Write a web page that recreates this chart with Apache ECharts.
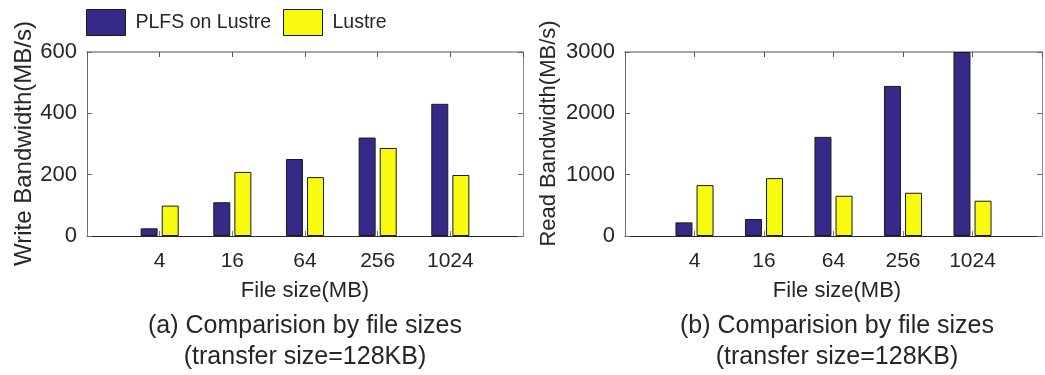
<!DOCTYPE html>
<html><head><meta charset="utf-8">
<script src="https://cdn.jsdelivr.net/npm/echarts@6/dist/echarts.min.js"></script>
<style>html,body{margin:0;padding:0;background:#fff}#c{width:1045px;height:375px}</style>
</head><body><div id="c"></div>
<script>
// ---- data ----
const categories = ['4', '16', '64', '256', '1024'];
const seriesNames = ['PLFS on Lustre', 'Lustre'];
const writePLFS   = [25, 110, 251, 321, 431];
const writeLustre = [99, 209, 192, 287, 199];
const readPLFS    = [222, 277, 1616, 2447, 3000];
const readLustre  = [830, 944, 656, 705, 575];
const yLabels = ['Write Bandwidth(MB/s)', 'Read Bandwidth(MB/s)'];
const xLabel = 'File size(MB)';
const captions = [['(a) Comparision by file sizes', '(transfer size=128KB)'],
                  ['(b) Comparision by file sizes', '(transfer size=128KB)']];

// ---- style ----
const FONT = '"Liberation Sans", Arial, Helvetica, sans-serif';
const TXT = '#262626';
const BLUE = '#352a87', YELLOW = '#f8fa0f';
const BOX = '#8a8a8a';

const grids = [
  {left: 87, top: 52, width: 436, height: 184},
  {left: 625, top: 52, width: 425, height: 184}
];
const yMax = [600, 3000], yInt = [200, 1000];

const xAxes = [], yAxes = [], series = [];
grids.forEach((g, gi) => {
  xAxes.push({
    gridIndex: gi, type: 'value', min: 0, max: 6, interval: 1, position: 'bottom',
    axisLine: {show: true, onZero: false, lineStyle: {color: '#262626', width: 1}},
    axisTick: {show: true, inside: true, length: 5, lineStyle: {color: '#7a7a7a'}},
    axisLabel: {show: true, margin: 15, fontSize: 21, fontFamily: FONT, color: TXT,
      formatter: v => categories[v - 1] || ''},
    splitLine: {show: false}
  });
  xAxes.push({
    gridIndex: gi, type: 'value', min: 0, max: 6, interval: 1, position: 'top',
    axisLine: {show: true, onZero: false, lineStyle: {color: BOX, width: 1.5}},
    axisTick: {show: true, inside: true, length: 5, lineStyle: {color: '#555'}},
    axisLabel: {show: false}, splitLine: {show: false}
  });
  yAxes.push({
    gridIndex: gi, type: 'value', min: 0, max: yMax[gi], interval: yInt[gi], position: 'left',
    axisLine: {show: true, onZero: false, lineStyle: {color: '#6a6a6a', width: 1}},
    axisTick: {show: true, inside: true, length: 5, lineStyle: {color: '#6a6a6a'}},
    axisLabel: {show: true, margin: 10, fontSize: 22, fontFamily: FONT, color: TXT,
      formatter: v => String(v)},
    splitLine: {show: false}
  });
  yAxes.push({
    gridIndex: gi, type: 'value', min: 0, max: yMax[gi], interval: yInt[gi], position: 'right',
    axisLine: {show: true, onZero: false, lineStyle: {color: BOX, width: 1}},
    axisTick: {show: true, inside: true, length: 5, lineStyle: {color: '#6a6a6a'}},
    axisLabel: {show: false}, splitLine: {show: false}
  });
});

const dataSets = [[writePLFS, writeLustre], [readPLFS, readLustre]];
const colors = [BLUE, YELLOW];
dataSets.forEach((pair, gi) => {
  pair.forEach((vals, si) => {
    series.push({
      name: seriesNames[si], type: 'bar',
      xAxisIndex: gi * 2, yAxisIndex: gi * 2,
      barWidth: 17, barGap: '24%',
      itemStyle: {color: colors[si], borderColor: '#1a1a1a', borderWidth: 1},
      data: vals.map((v, i) => [i + 1, v]),
      animation: false, z: 3
    });
  });
});

const graphic = [];
const yNamePos = [{x: 24, y: 143.5, size: 24}, {x: 549, y: 133.5, size: 22}];
yNamePos.forEach((p, i) => graphic.push({
  type: 'text', x: p.x, y: p.y, rotation: Math.PI / 2,
  style: {text: yLabels[i], fill: TXT, font: p.size + 'px ' + FONT, textAlign: 'center', textVerticalAlign: 'middle'}
}));
const centers = [305, 837];
centers.forEach((cx, i) => {
  graphic.push({type: 'text', x: cx, y: 291,
    style: {text: xLabel, fill: TXT, font: '22px ' + FONT, textAlign: 'center', textVerticalAlign: 'middle'}});
  graphic.push({type: 'text', x: cx, y: 326,
    style: {text: captions[i][0], fill: TXT, font: '25px ' + FONT, textAlign: 'center', textVerticalAlign: 'middle'}});
  graphic.push({type: 'text', x: cx, y: 357,
    style: {text: captions[i][1], fill: TXT, font: '25px ' + FONT, textAlign: 'center', textVerticalAlign: 'middle'}});
});

const chart = echarts.init(document.getElementById('c'), null, {renderer: 'canvas'});
chart.setOption({
  backgroundColor: '#ffffff',
  animation: false,
  legend: {
    data: seriesNames, left: 81, top: 4, itemWidth: 39, itemHeight: 26, itemGap: 12,
    icon: 'rect', itemStyle: {borderColor: '#1a1a1a', borderWidth: 1},
    textStyle: {fontSize: 19.5, fontFamily: FONT, color: TXT, padding: [0, 0, 0, 5]}
  },
  grid: grids,
  xAxis: xAxes,
  yAxis: yAxes,
  series: series,
  graphic: graphic
});
</script></body></html>
